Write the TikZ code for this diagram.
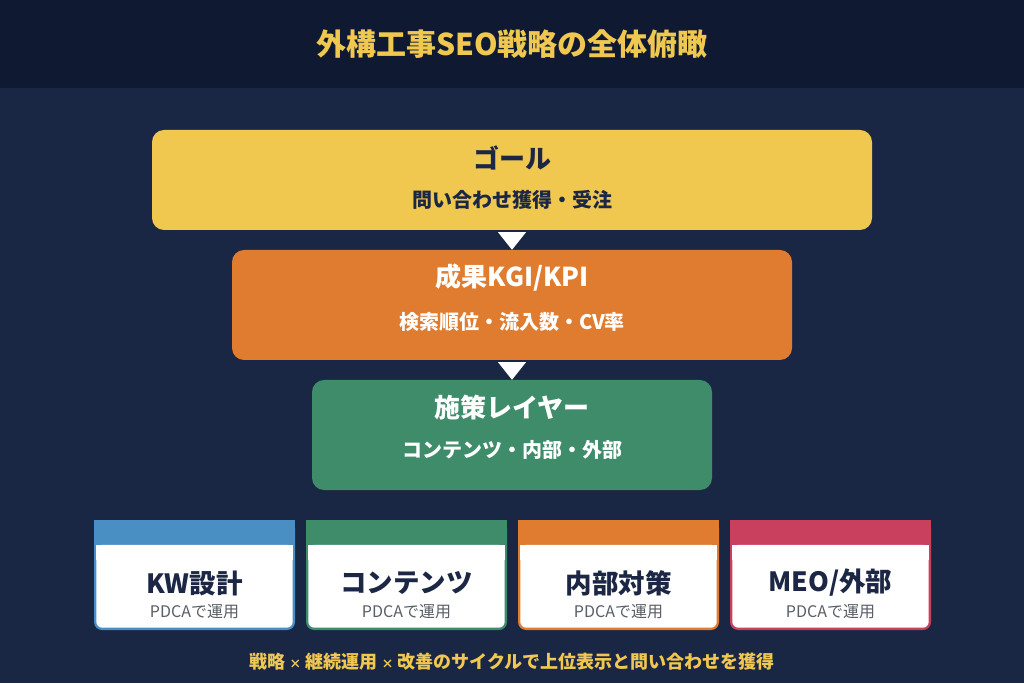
\documentclass[tikz,border=0pt]{standalone}
\usepackage{fontspec}
\setmainfont{Noto Sans CJK JP}
\usepackage{tikz}
\usetikzlibrary{calc}

\definecolor{headbg}{HTML}{0F1A32}
\definecolor{mainbg}{HTML}{1A2744}
\definecolor{goalyellow}{HTML}{F0C850}
\definecolor{kpiorange}{HTML}{E07C30}
\definecolor{layergreen}{HTML}{3F8C6B}
\definecolor{kwblue}{HTML}{4A8FC4}
\definecolor{meored}{HTML}{C8405E}
\definecolor{darktext}{HTML}{1B2744}
\definecolor{subgray}{HTML}{5A5F66}

\newcommand{\smalltimes}{{\fontsize{12}{14}\selectfont ×}}

\tikzset{
  layerbox/.style={rounded corners=12pt, inner sep=0pt},
  bigtitle/.style={font=\bfseries\fontsize{26}{30}\selectfont},
  subtitle/.style={font=\bfseries\fontsize{20}{23}\selectfont},
  cardbox/.style={rounded corners=8pt, minimum width=201pt, minimum height=110pt, inner sep=0pt},
  cardtitle/.style={font=\bfseries\fontsize{26.5}{30}\selectfont, text=darktext},
  cardsub/.style={font=\fontsize{16}{19}\selectfont, text=subgray}
}

\begin{document}
\begin{tikzpicture}[x=1pt, y=1pt]
                % Background and header band
                \fill[mainbg] (0,0) rectangle (1024,683);
                \fill[headbg] (0,595) rectangle (1024,683);
                \useasboundingbox (0,0) rectangle (1024,683);
                \node[font=\bfseries\fontsize{30}{34}\selectfont, text=goalyellow] (head) at (512,639) {外構工事SEO戦略の全体俯瞰};

                % Goal layer
                \node[layerbox, fill=goalyellow, minimum width=720pt, minimum height=100pt] (goal) at (512,503) {};
                \node[bigtitle, text=darktext] (goalt) at (512,525) {ゴール};
                \node[subtitle, text=darktext] (goals) at (512,483) {問い合わせ獲得・受注};

                % KGI/KPI layer
                \node[layerbox, fill=kpiorange, minimum width=560pt, minimum height=110pt] (kpi) at (512,378) {};
                \node[bigtitle, text=white] (kpit) at (512,405) {成果KGI/KPI};
                \node[subtitle, text=white] (kpis) at (512,361) {検索順位・流入数・CV率};

                % Measures layer
                \node[layerbox, fill=layergreen, minimum width=400pt, minimum height=110pt] (measure) at (512,248) {};
                \node[bigtitle, text=white] (measuret) at (512,275) {施策レイヤー};
                \node[subtitle, text=white] (measures) at (512,233) {コンテンツ・内部・外部};

                % Down triangles between layers
                \fill[white] ($(goal.south)+(-14,-2)$) -- ($(goal.south)+(14,-2)$) -- (kpi.north) -- cycle;
                \fill[white] ($(kpi.south)+(-14,-2)$) -- ($(kpi.south)+(14,-2)$) -- (measure.north) -- cycle;

                % Card 1 - KW
                \node[cardbox, fill=kwblue] (kw) at (194.5,108) {};
                \fill[kwblue] (kw.north west) rectangle ($(kw.north east)+(0,-25)$);
                \fill[white, rounded corners=6pt] ($(kw.north west)+(2.5,-25)$) rectangle ($(kw.south east)+(-2.5,2.5)$);
                \fill[white] ($(kw.north west)+(2.5,-25)$) rectangle ($(kw.north east)+(-2.5,-40)$);
                \node[cardtitle] (kwt) at (194.5,100) {KW設計};
                \node[cardsub] (kws) at (194.5,71) {PDCAで運用};

                % Card 2 - contents
                \node[cardbox, fill=layergreen] (cont) at (406.5,108) {};
                \fill[layergreen] (cont.north west) rectangle ($(cont.north east)+(0,-25)$);
                \fill[white, rounded corners=6pt] ($(cont.north west)+(2.5,-25)$) rectangle ($(cont.south east)+(-2.5,2.5)$);
                \fill[white] ($(cont.north west)+(2.5,-25)$) rectangle ($(cont.north east)+(-2.5,-40)$);
                \node[cardtitle] (contt) at (406.5,100) {コンテンツ};
                \node[cardsub] (conts) at (406.5,71) {PDCAで運用};

                % Card 3 - internal
                \node[cardbox, fill=kpiorange] (inner) at (618.5,108) {};
                \fill[kpiorange] (inner.north west) rectangle ($(inner.north east)+(0,-25)$);
                \fill[white, rounded corners=6pt] ($(inner.north west)+(2.5,-25)$) rectangle ($(inner.south east)+(-2.5,2.5)$);
                \fill[white] ($(inner.north west)+(2.5,-25)$) rectangle ($(inner.north east)+(-2.5,-40)$);
                \node[cardtitle] (innert) at (618.5,100) {内部対策};
                \node[cardsub] (inners) at (618.5,71) {PDCAで運用};

                % Card 4 - MEO
                \node[cardbox, fill=meored] (meo) at (830.5,108) {};
                \fill[meored] (meo.north west) rectangle ($(meo.north east)+(0,-25)$);
                \fill[white, rounded corners=6pt] ($(meo.north west)+(2.5,-25)$) rectangle ($(meo.south east)+(-2.5,2.5)$);
                \fill[white] ($(meo.north west)+(2.5,-25)$) rectangle ($(meo.north east)+(-2.5,-40)$);
                \node[cardtitle] (meot) at (830.5,100) {MEO/外部};
                \node[cardsub] (meos) at (830.5,71) {PDCAで運用};

                % Footer line
                \node[font=\bfseries\fontsize{18}{21}\selectfont, text=goalyellow] (foot) at (512,21) {戦略 \smalltimes{} 継続運用 \smalltimes{} 改善のサイクルで上位表示と問い合わせを獲得};
            \end{tikzpicture}
\end{document}
